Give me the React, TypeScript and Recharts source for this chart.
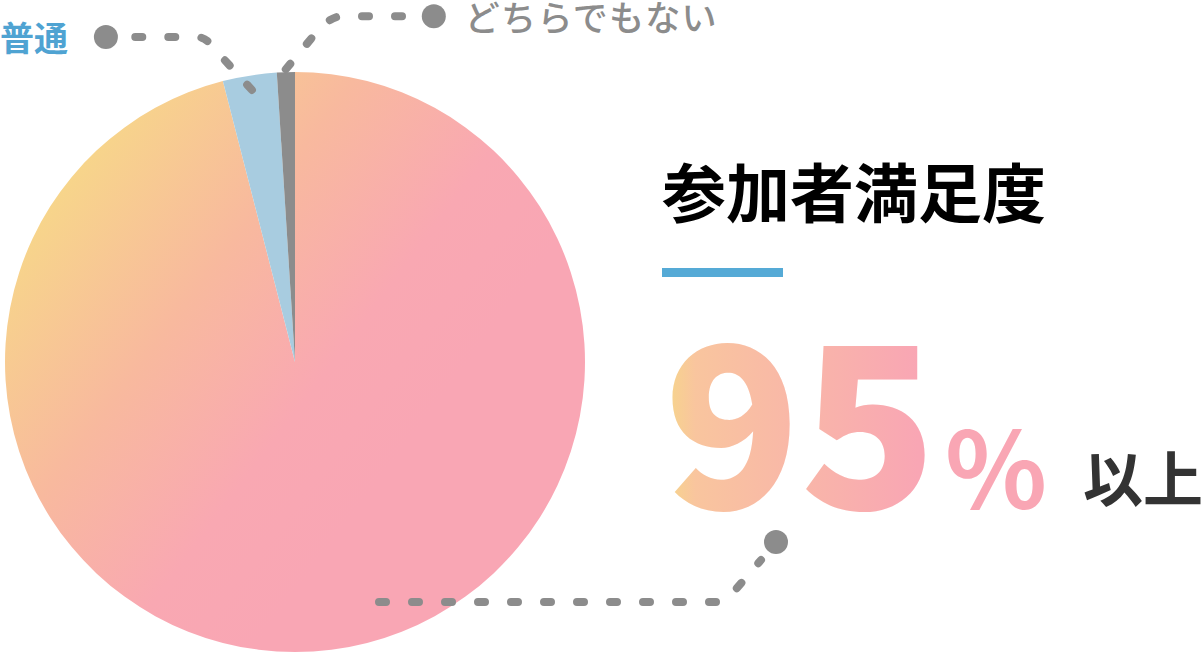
import React from 'react'
import { PieChart, Pie, Cell } from 'recharts'

// 回答の割合（%）
const categories = ['満足', '普通', 'どちらでもない']
const shares = [96, 3, 1]
const sliceColors = ['url(#pieGradient)', '#a8cce0', '#8c8c8c']

const headline = '参加者満足度'
const figure = '95'
const unit = '%'
const suffix = '以上'

const data = categories.map((name, i) => ({ name, value: shares[i], color: sliceColors[i] }))

const LEADER = '#8c8c8c'
const RAD = Math.PI / 180
const polar = (cx: number, cy: number, r: number, angle: number) => ({
  x: cx + r * Math.cos(-angle * RAD),
  y: cy + r * Math.sin(-angle * RAD),
})

// 引き出し線（点線＋丸）
function renderLeader(props: any) {
  const { cx, cy, outerRadius, midAngle, index } = props
  let d = ''
  let dot = { x: 0, y: 0 }
  let text: React.ReactNode = null
  if (index === 0) {
    const s = { x: cx + 84, y: cy + 240 }
    d = `M${s.x},${s.y} L${s.x + 338},${s.y} Q${s.x + 346},${s.y} ${s.x + 352},${s.y - 7} L${s.x + 382},${s.y - 42}`
    dot = { x: s.x + 397, y: s.y - 60 }
  } else if (index === 1) {
    const a = polar(cx, cy, outerRadius * 0.95, midAngle)
    d = `M${a.x},${a.y} L${a.x - 42},${a.y - 46} Q${a.x - 47},${a.y - 53} ${a.x - 57},${a.y - 53} L${a.x - 132},${a.y - 53}`
    dot = { x: a.x - 146, y: a.y - 53 }
    text = (
      <text x={dot.x - 106} y={dot.y + 14} fontSize={34} fontWeight={700} fill="#4fa3d2"
        fontFamily="'Noto Sans CJK JP', sans-serif">
        {categories[1]}
      </text>
    )
  } else {
    const a = polar(cx, cy, outerRadius * 1.01, midAngle)
    d = `M${a.x},${a.y} L${a.x + 29},${a.y - 35} Q${a.x + 44},${a.y - 53} ${a.x + 56},${a.y - 53} L${a.x + 136},${a.y - 53}`
    dot = { x: a.x + 148, y: a.y - 53 }
    text = (
      <text x={dot.x + 31} y={dot.y + 15} fontSize={35} fontWeight={500} fill="#8c8c8c"
        letterSpacing={1.3} fontFamily="'Noto Sans CJK JP', sans-serif">
        {categories[2]}
      </text>
    )
  }
  return (
    <g key={`leader-${index}`}>
      <path d={d} fill="none" stroke={LEADER} strokeWidth={8} strokeLinecap="round" strokeDasharray="7 26" />
      <circle cx={dot.x} cy={dot.y} r={12} fill={LEADER} />
      {text}
    </g>
  )
}

export default function App() {
  return (
    <div style={{ position: 'absolute', left: 0, top: 0, width: 1204, height: 653, background: '#fff' }}>
      <PieChart width={1204} height={653} margin={{ top: 0, right: 0, bottom: 0, left: 0 }}>
        <defs>
          <linearGradient id="pieGradient" x1="0.05" y1="0.25" x2="0.65" y2="0.7">
            <stop offset="0" stopColor="#f7d68a" />
            <stop offset="0.4" stopColor="#f8b99e" />
            <stop offset="0.75" stopColor="#f9a8b2" />
            <stop offset="1" stopColor="#f9a6b4" />
          </linearGradient>
        </defs>
        <Pie
          data={data}
          dataKey="value"
          nameKey="name"
          cx={295}
          cy={362}
          innerRadius={0}
          outerRadius={290}
          startAngle={90}
          endAngle={-270}
          stroke="none"
          label={renderLeader}
          labelLine={false}
          isAnimationActive={false}
        >
          {data.map((entry, i) => (
            <Cell key={i} fill={entry.color} />
          ))}
        </Pie>
      </PieChart>

      {/* 右側の見出しと数値 */}
      <svg width={1204} height={653} style={{ position: 'absolute', left: 0, top: 0, pointerEvents: 'none' }}>
        <defs>
          <linearGradient id="figureGradient" gradientUnits="userSpaceOnUse" x1={665} y1={0} x2={918} y2={0}>
            <stop offset="0" stopColor="#f6d68a" />
            <stop offset="0.12" stopColor="#f9c59e" />
            <stop offset="1" stopColor="#f9a6b4" />
          </linearGradient>
        </defs>
        <text x={662} y={217} fontSize={64} fontWeight={700} fill="#000"
          fontFamily="'Noto Sans CJK JP', sans-serif">
          {headline}
        </text>
        <rect x={662} y={268} width={121} height={9} fill="#55aad6" />
        <text x={664} y={509} fontSize={224} fontWeight={900} fill="url(#figureGradient)"
          fontFamily="'Noto Sans CJK JP', 'Noto Sans', sans-serif">
          {figure}
        </text>
        <text x={945} y={509} fontSize={106} fontWeight={700} fill="#f9a6b4"
          fontFamily="'Noto Sans CJK JP', 'Noto Sans', sans-serif">
          {unit}
        </text>
        <text x={1083} y={502} fontSize={60} fontWeight={700} fill="#333"
          fontFamily="'Noto Sans CJK JP', sans-serif">
          {suffix}
        </text>
      </svg>
    </div>
  )
}
